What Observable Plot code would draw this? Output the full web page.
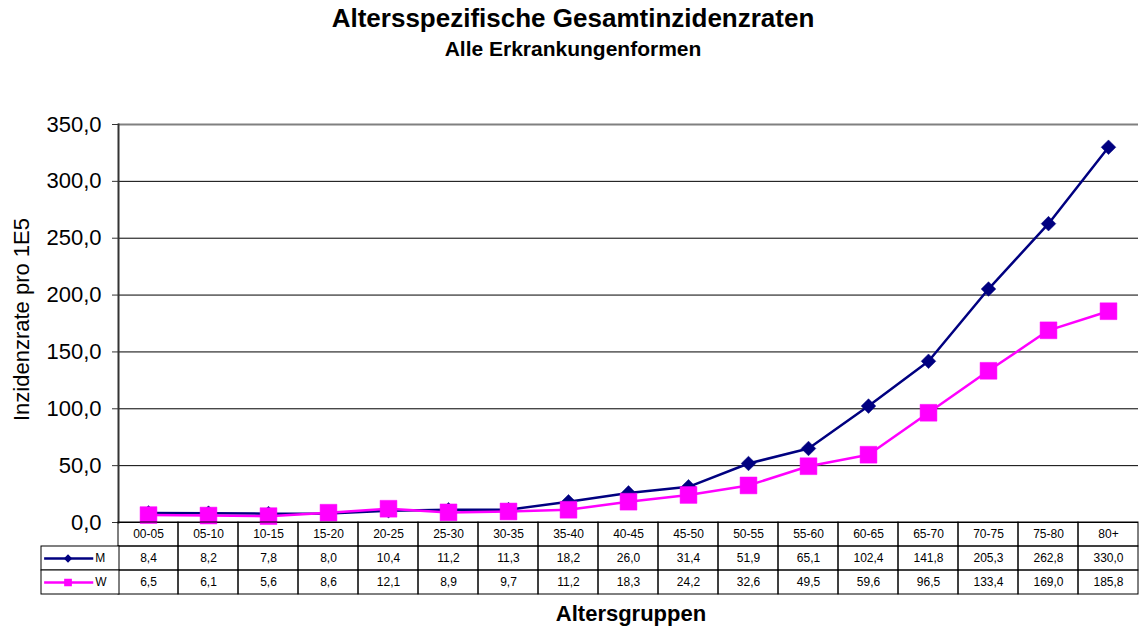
<!DOCTYPE html>
<html>
<head>
<meta charset="utf-8">
<script src="https://cdn.jsdelivr.net/npm/d3@7"></script>
<script src="https://cdn.jsdelivr.net/npm/@observablehq/plot@0.6"></script>
<style>
  body { margin: 0; background: #fff; font-family: "Liberation Sans", Arial, sans-serif; }
  #wrap { position: relative; width: 1141px; height: 629px; overflow: hidden; }
  .abs { position: absolute; }
  .t { font-weight: bold; color: #000; white-space: nowrap; transform: translate(-50%, -50%); }
</style>
</head>
<body>
<div id="wrap">
  <div class="abs t" style="left:573px; top:18px; font-size:26px;">Altersspezifische Gesamtinzidenzraten</div>
  <div class="abs t" style="left:573px; top:49px; font-size:21px;">Alle Erkrankungenformen</div>
  <div class="abs t" style="left:631px; top:614px; font-size:22px;">Altersgruppen</div>
</div>
<script>
// Altersgruppen und Inzidenzraten pro 100.000 (M = Männer, W = Frauen)
const groups = ["00-05","05-10","10-15","15-20","20-25","25-30","30-35","35-40","40-45","45-50","50-55","55-60","60-65","65-70","70-75","75-80","80+"];
const valuesM = [8.4, 8.2, 7.8, 8.0, 10.4, 11.2, 11.3, 18.2, 26.0, 31.4, 51.9, 65.1, 102.4, 141.8, 205.3, 262.8, 330.0];
const valuesW = [6.5, 6.1, 5.6, 8.6, 12.1, 8.9, 9.7, 11.2, 18.3, 24.2, 32.6, 49.5, 59.6, 96.5, 133.4, 169.0, 185.8];
const yTicks = [0, 50, 100, 150, 200, 250, 300, 350];
const seriesNames = ["M", "W"];
const headerRow = "Altersgruppe";

const colorM = "#000080";
const colorW = "#FF00FF";
const fmt = v => v.toFixed(1).replace(".", ",");
const font = "Liberation Sans, Arial, sans-serif";

const rows = [];
groups.forEach((g, i) => {
  rows.push({group: g, serie: "M", value: valuesM[i]});
  rows.push({group: g, serie: "W", value: valuesW[i]});
});
const dataM = rows.filter(d => d.serie === "M");
const dataW = rows.filter(d => d.serie === "W");

const wrap = document.getElementById("wrap");

// Liniendiagramm
const chart = Plot.plot({
  width: 1141,
  height: 530,
  marginTop: 124,
  marginBottom: 8,
  marginLeft: 118,
  marginRight: 3,
  style: {fontFamily: font, background: "transparent", overflow: "visible"},
  x: {type: "point", domain: groups, padding: 0.5, axis: null},
  y: {domain: [0, 350], ticks: yTicks, tickFormat: fmt, label: null, axis: null},
  marks: [
    Plot.ruleY(yTicks.filter(t => t > 0 && t < 350), {stroke: "#000", strokeWidth: 1}),
    Plot.ruleY([350], {stroke: "#808080", strokeWidth: 2}),
    Plot.ruleY([0], {stroke: "#000", strokeWidth: 1}),
    Plot.frame({anchor: "left", stroke: "#333", strokeWidth: 2}),
    Plot.axisY({ticks: yTicks, tickFormat: fmt, tickSize: 6, tickPadding: 11, fontSize: 22, label: null, stroke: "#333"}),
    Plot.text(["Inzidenzrate pro 1E5"], {frameAnchor: "left", textAnchor: "middle", rotate: -90, dx: -97, dy: -4, fontSize: 22, fill: "#000"}),
    Plot.line(dataM, {x: "group", y: "value", stroke: colorM, strokeWidth: 2.5}),
    Plot.line(dataW, {x: "group", y: "value", stroke: colorW, strokeWidth: 2.5}),
    Plot.dot(dataM, {x: "group", y: "value", symbol: "diamond2", r: 6.6, fill: colorM, stroke: colorM, strokeWidth: 0.5}),
    Plot.dot(dataW, {x: "group", y: "value", symbol: "square", r: 9.5, fill: colorW, stroke: colorW, strokeWidth: 0.5})
  ]
});
chart.style.position = "absolute";
chart.style.left = "0px";
chart.style.top = "0px";
wrap.appendChild(chart);

// Datentabelle unter dem Diagramm
const headerCells = groups.map(g => ({group: g, serie: headerRow, label: g}));
const valueCells = rows.map(d => ({group: d.group, serie: d.serie, label: fmt(d.value)}));
const table = Plot.plot({
  width: 1141,
  height: 72,
  marginTop: 0,
  marginBottom: 0,
  marginLeft: 118,
  marginRight: 3,
  style: {fontFamily: font, background: "transparent", overflow: "visible"},
  x: {type: "band", domain: groups, padding: 0, axis: null},
  y: {type: "band", domain: [headerRow, ...seriesNames], padding: 0, axis: null},
  marks: [
    Plot.cell([...headerCells, ...valueCells], {x: "group", y: "serie", fill: "none", stroke: "#000", strokeWidth: 1}),
    Plot.text([...headerCells, ...valueCells], {x: "group", y: "serie", text: "label", fontSize: 12, fill: "#000"})
  ]
});
table.style.position = "absolute";
table.style.left = "0px";
table.style.top = "522px";
wrap.appendChild(table);

// Legendenschlüssel links neben der Tabelle
const keyRows = [{serie: "M", color: colorM, symbol: "diamond2", r: 4.2}, {serie: "W", color: colorW, symbol: "square", r: 6.5}];
const legend = Plot.plot({
  width: 78,
  height: 48,
  margin: 0,
  style: {fontFamily: font, background: "transparent", overflow: "visible"},
  x: {domain: [0, 1], axis: null},
  y: {type: "band", domain: seriesNames, padding: 0, axis: null},
  marks: [
    Plot.barX(keyRows, {x1: 0, x2: 1, y: "serie", fill: "white", stroke: "#000", strokeWidth: 1}),
    Plot.ruleY(keyRows, {x1: 0.04, x2: 0.67, y: "serie", stroke: "color", strokeWidth: 2.5}),
    Plot.dot(keyRows, {x: 0.34, y: "serie", symbol: "symbol", r: "r", fill: "color", stroke: "color"}),
    Plot.text(keyRows, {x: 0.69, y: "serie", text: "serie", textAnchor: "start", fontSize: 12, fill: "#000"})
  ]
});
legend.style.position = "absolute";
legend.style.left = "41px";
legend.style.top = "546px";
wrap.appendChild(legend);
</script>
</body>
</html>
